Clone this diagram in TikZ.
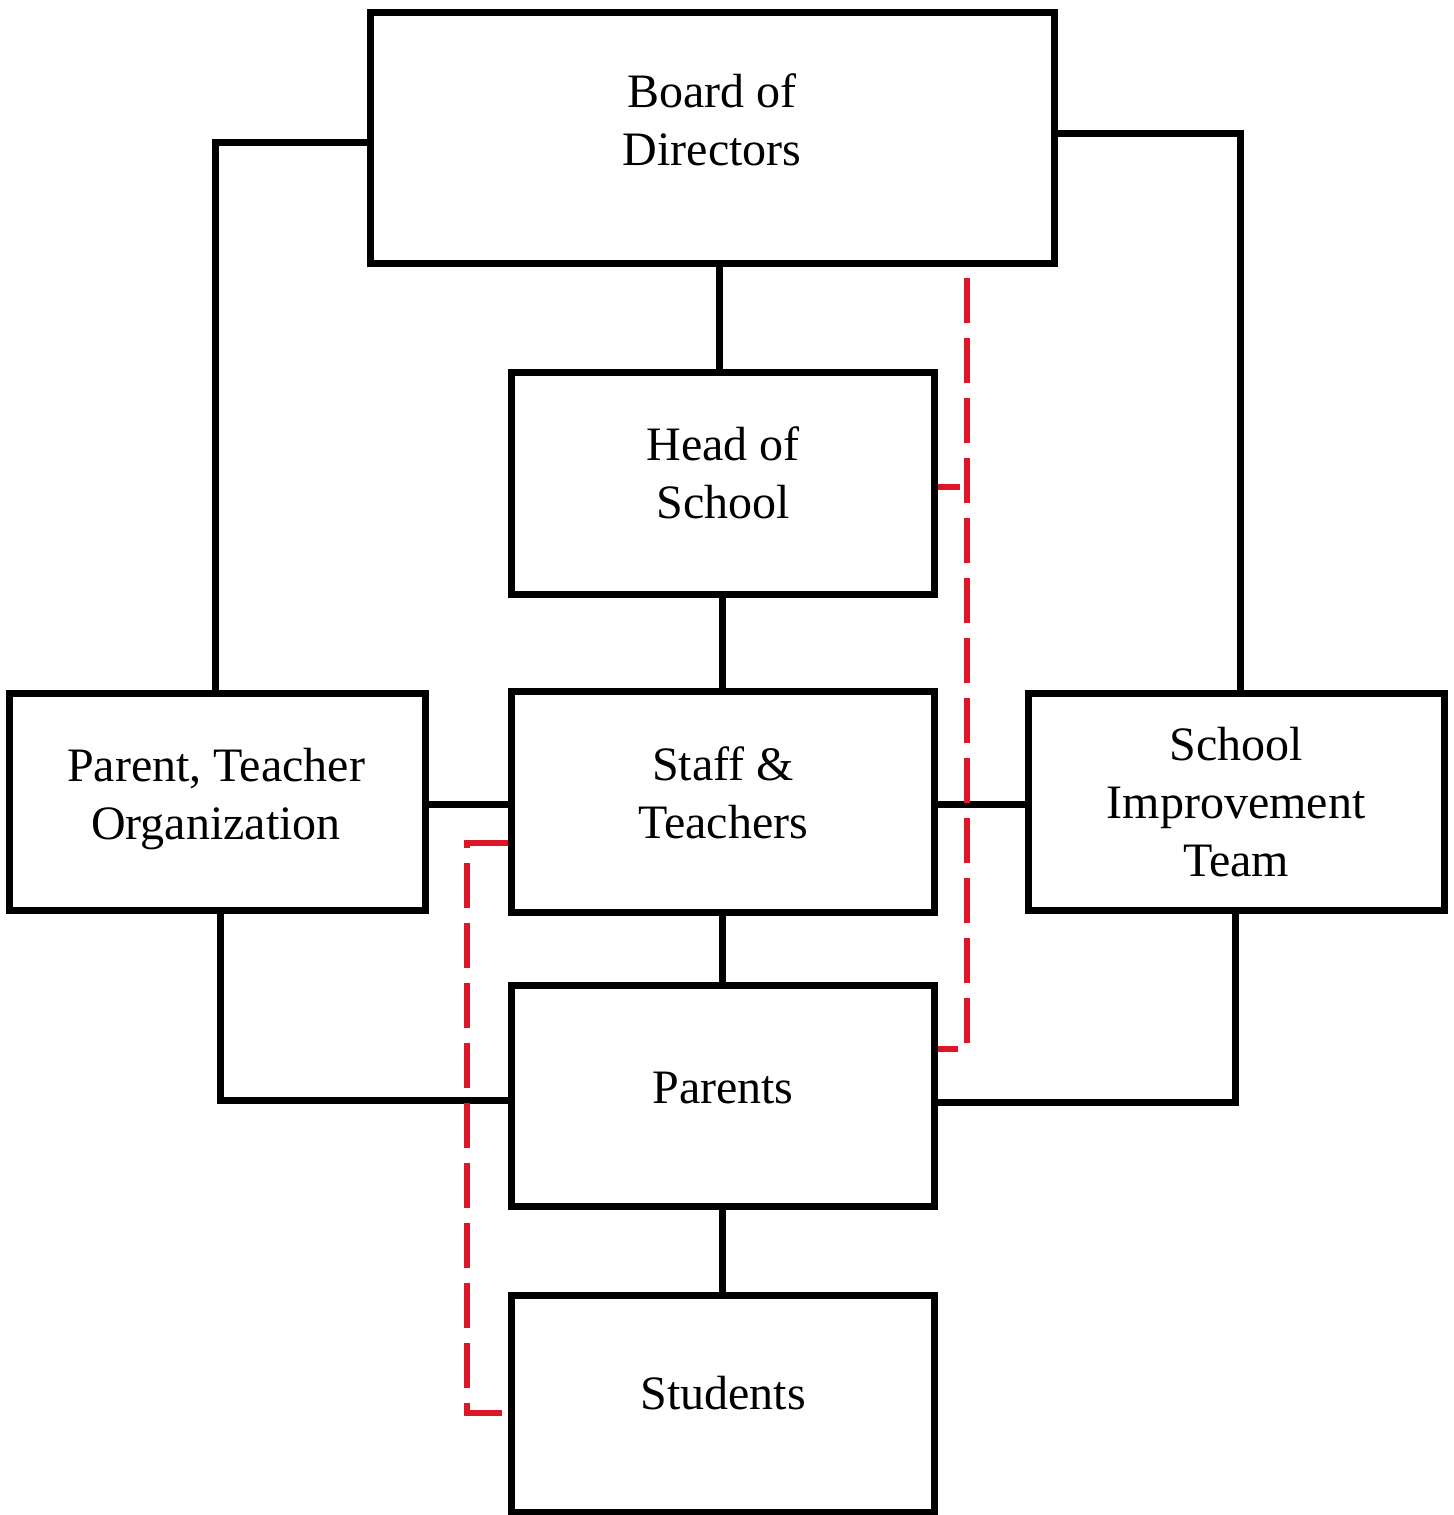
\documentclass[tikz,border=0pt]{standalone}
\usepackage{fontspec}
\setmainfont{Liberation Serif}
\usetikzlibrary{calc}
\definecolor{linkred}{RGB}{222,22,40}
\begin{document}
\begin{tikzpicture}[x=0.5pt,y=-0.5pt,
  box/.style={draw=black,line width=3.5pt,fill=none,inner sep=0pt},
  lbl/.style={align=center,font=\fontsize{24}{29}\selectfont,inner sep=0pt},
  conn/.style={draw=black,line width=3.5pt},
  reddash/.style={draw=linkred,line width=3pt,dash pattern=on 22.5pt off 7.5pt},
  redsolid/.style={draw=linkred,line width=3pt}]
\useasboundingbox (0,0) rectangle (1453,1515);
% boxes
\node[box,minimum width=342pt,minimum height=125.5pt] (board) at (712,137.5) {};
\node[box,minimum width=211.5pt,minimum height=111pt] (head) at (722.5,483) {};
\node[box,minimum width=211.5pt,minimum height=110.5pt] (staff) at (722.5,801.5) {};
\node[box,minimum width=208pt,minimum height=108.5pt] (pto) at (217,801.5) {};
\node[box,minimum width=208pt,minimum height=108.5pt] (sit) at (1236,801.5) {};
\node[box,minimum width=211.5pt,minimum height=110.5pt] (parents) at (722.5,1095.5) {};
\node[box,minimum width=211.5pt,minimum height=108.5pt] (students) at (722.5,1403.5) {};
% labels
\node[lbl] (boardtxt) at (712,120) {Board of\\Directors};
\node[lbl] (headtxt) at (723,473) {Head of\\School};
\node[lbl] (stafftxt) at (723,793) {Staff \&\\Teachers};
\node[lbl] (ptotxt) at (216,799) {Parent, Teacher\\Organization};
\node[lbl] (sittxt) at (1236,802) {School\\Improvement\\Team};
\node[lbl] (parentstxt) at (723,1088) {Parents};
\node[lbl] (studentstxt) at (723,1393) {Students};
% connectors
\draw[conn] ($(board.south -| head.north)+(-3,0)$) -- ($(head.north)+(-3,0)$);
\draw[conn] (head.south) -- (staff.north);
\draw[conn] (staff.south) -- (parents.north);
\draw[conn] (parents.south) -- (students.north);
\draw[conn] (board.west |- 0,142) -| ($(pto.north)+(-2,0)$);
\draw[conn] (board.east |- 0,133) -| ($(sit.north)+(4,0)$);
\draw[conn] ($(pto.east)+(0,3)$) -- ($(staff.west)+(0,3)$);
\draw[conn] ($(staff.east)+(0,3)$) -- ($(sit.west)+(0,3)$);
\draw[conn] ($(pto.south)+(3,0)$) |- ($(parents.west)+(0,4.5)$);
\draw[conn] ($(sit.south)+(-1,0)$) |- ($(parents.east)+(0,6.5)$);
% red dashed links
\coordinate (rtop) at (967,278);
\coordinate (rtick) at (960,487);
\draw[reddash] (rtop) -- (967,1049) -- (parents.east |- 0,1049);
\draw[redsolid] (head.east |- rtick) -- (rtick);
\draw[reddash] (staff.west |- 0,843) -- (467,843) -- (467,1413) -- (students.west |- 0,1413);
\end{tikzpicture}
\end{document}
